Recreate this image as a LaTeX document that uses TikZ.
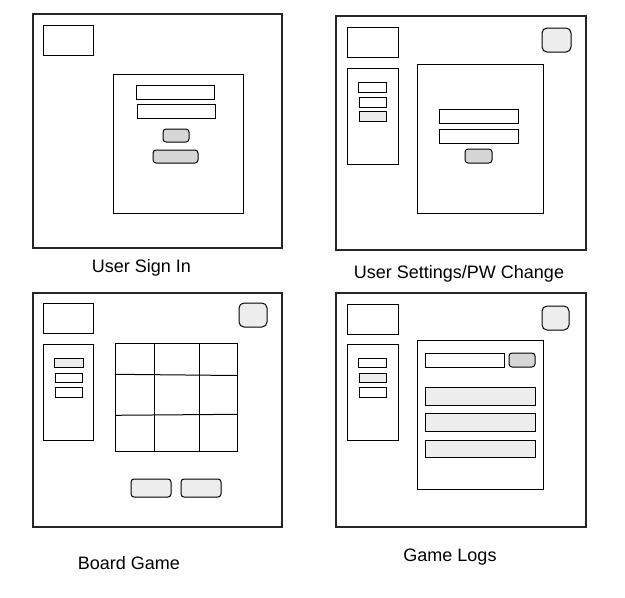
\documentclass[tikz,border=0pt]{standalone}
\usepackage{fontspec}
\setmainfont{Liberation Sans}
\begin{document}
\begin{tikzpicture}[x=1pt,y=-1pt,
  screen/.style={draw=black!85,line width=2.2pt},
  box/.style={draw=black,line width=1pt},
  lightbtn/.style={draw=black,line width=1pt,fill=black!7,rounded corners=3pt},
  darkbtn/.style={draw=black,line width=1pt,fill=black!16,rounded corners=3pt},
  avatar/.style={draw=black,line width=1pt,fill=black!7,rounded corners=5pt},
  lightfield/.style={draw=black,line width=1pt,fill=black!7},
  caption/.style={font=\fontsize{18}{21}\selectfont,anchor=base,inner sep=0pt}]
\useasboundingbox (0,0) rectangle (625,598);
\fill[white] (0,0) rectangle (625,598);

% ---- User Sign In ----
\draw[screen] (33,14) rectangle (282,248);
\draw[box] (43,25) rectangle (93,55);
\draw[box] (113,74) rectangle (243,213);
\draw[box] (136,85) rectangle (214,99);
\draw[box] (137,104) rectangle (215,118);
\draw[darkbtn] (163,129) rectangle (189,142);
\draw[darkbtn] (153,150) rectangle (198,163);
\node[caption] (signin) at (141.5,272) {User Sign In};

% ---- User Settings / PW Change ----
\draw[screen] (336,16) rectangle (586,250);
\draw[box] (347,27) rectangle (398,57);
\draw[avatar] (542,28) rectangle (571,52);
\draw[box] (347,68) rectangle (398,164);
\draw[box] (358,82) rectangle (386,92);
\draw[box] (359,97) rectangle (386,107);
\draw[lightfield] (359,111) rectangle (386,121);
\draw[box] (417,64) rectangle (543,213);
\draw[box] (439,109) rectangle (518,123);
\draw[box] (439,129) rectangle (518,143);
\draw[darkbtn] (465,149) rectangle (492,163);
\node[caption] (settings) at (459,278) {User Settings/PW Change};

% ---- Board Game ----
\draw[screen] (33,293) rectangle (282,527);
\draw[box] (43,303) rectangle (93,333);
\draw[avatar] (239,303) rectangle (267,327);
\draw[box] (43,344) rectangle (93,440);
\draw[lightfield] (54,358) rectangle (83,367);
\draw[box] (55,373) rectangle (82,382);
\draw[box] (55,387) rectangle (82,397);
% game board
\draw[box] (115,343) rectangle (237,451);
\draw[box] (154,343) -- (154,451);
\draw[box] (199,343) -- (199,451);
\draw[box] (115,374.3) -- (237,375.5);
\draw[box] (115,415.3) -- (237,414.3);
\draw[lightbtn] (131,479) rectangle (171,497);
\draw[lightbtn] (181,479) rectangle (221,497);
\node[caption] (board) at (129,569) {Board Game};

% ---- Game Logs ----
\draw[screen] (336,293) rectangle (586,527);
\draw[box] (347,304) rectangle (398,334);
\draw[avatar] (542,306) rectangle (569,330);
\draw[box] (347,344) rectangle (398,440);
\draw[box] (358,358) rectangle (386,367);
\draw[lightfield] (359,373) rectangle (386,382);
\draw[box] (359,387) rectangle (386,397);
\draw[box] (417,340) rectangle (543,489);
\draw[box] (425,353) rectangle (504,367);
\draw[darkbtn] (509,353) rectangle (535,367);
\draw[lightfield] (425,387) rectangle (535,405);
\draw[lightfield] (425,413) rectangle (535,431);
\draw[lightfield] (425,440) rectangle (535,457);
\node[caption] (logs) at (450,561) {Game Logs};
\end{tikzpicture}
\end{document}
